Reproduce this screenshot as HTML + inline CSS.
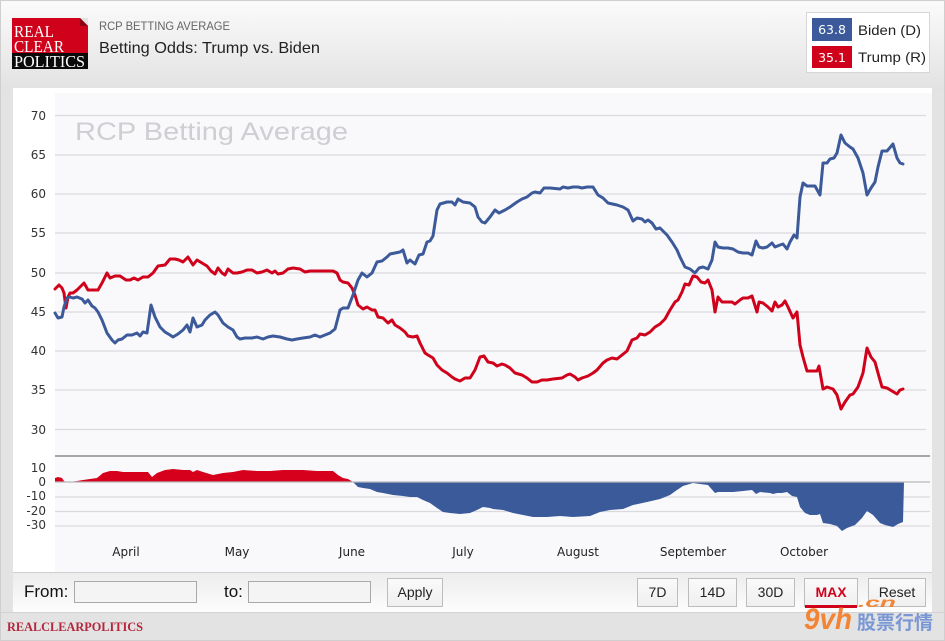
<!DOCTYPE html>
<html><head><meta charset="utf-8"><style>
html,body{margin:0;padding:0;background:#e3e3e3;}
body{width:945px;height:641px;overflow:hidden;position:relative;}
svg{position:absolute;left:0;top:0;}
</style></head><body>
<svg width="945" height="641" viewBox="0 0 945 641" xmlns="http://www.w3.org/2000/svg">
<defs>
<linearGradient id="hdr" x1="0" y1="0" x2="0" y2="1"><stop offset="0" stop-color="#fbfbfb"/><stop offset="1" stop-color="#e2e2e2"/></linearGradient>
<linearGradient id="bar" x1="0" y1="0" x2="0" y2="1"><stop offset="0" stop-color="#ececec"/><stop offset="1" stop-color="#fdfdfd"/></linearGradient>
<linearGradient id="btn" x1="0" y1="0" x2="0" y2="1"><stop offset="0" stop-color="#fafafa"/><stop offset="1" stop-color="#efefef"/></linearGradient>
</defs>
<rect x="0" y="0" width="945" height="641" fill="#e3e3e3"/>
<rect x="0" y="0" width="945" height="90" fill="url(#hdr)"/>
<rect x="0.5" y="0.5" width="944" height="640" fill="none" stroke="#cfcfcf"/>
<!-- logo -->
<rect x="12" y="18" width="76" height="36" fill="#d0021b"/>
<polygon points="80,18 88,18 88,26" fill="#e3e3e3"/>
<polygon points="80,18 88,26 80,26" fill="#8e0012"/>
<rect x="12" y="53" width="76" height="16" fill="#0a0a0a"/>
<text x="14" y="37" font-family="Liberation Serif, serif" font-size="17" fill="#fff" textLength="40" lengthAdjust="spacingAndGlyphs">REAL</text>
<text x="14" y="52" font-family="Liberation Serif, serif" font-size="17" fill="#fff" textLength="50" lengthAdjust="spacingAndGlyphs">CLEAR</text>
<text x="14" y="67" font-family="Liberation Serif, serif" font-size="17" fill="#fff" textLength="71" lengthAdjust="spacingAndGlyphs">POLITICS</text>
<text x="99" y="30" font-family="Liberation Sans, sans-serif" font-size="12" fill="#666" textLength="131" lengthAdjust="spacingAndGlyphs">RCP BETTING AVERAGE</text>
<text x="99" y="53" font-family="Liberation Sans, sans-serif" font-size="16" fill="#222" textLength="221" lengthAdjust="spacingAndGlyphs">Betting Odds: Trump vs. Biden</text>
<!-- legend -->
<rect x="806.5" y="12.5" width="123" height="60" fill="#fff" stroke="#d6d6d6"/>
<rect x="812" y="18" width="40" height="23" fill="#3c5a99"/>
<rect x="812" y="46" width="40" height="22" fill="#d0021b"/>
<text x="832" y="34" text-anchor="middle" font-family="DejaVu Sans, sans-serif" font-size="12.5" fill="#fff">63.8</text>
<text x="832" y="62" text-anchor="middle" font-family="DejaVu Sans, sans-serif" font-size="12.5" fill="#fff">35.1</text>
<text x="858" y="35" font-family="Liberation Sans, sans-serif" font-size="14" fill="#222" textLength="63" lengthAdjust="spacingAndGlyphs">Biden (D)</text>
<text x="858" y="62" font-family="Liberation Sans, sans-serif" font-size="14" fill="#222" textLength="68" lengthAdjust="spacingAndGlyphs">Trump (R)</text>
<!-- chart panel -->
<rect x="13" y="88" width="919" height="484" fill="#ffffff"/>
<rect x="55" y="93" width="877" height="479" fill="#f9f9fc"/>
<!-- gridlines -->
<g stroke="#d9d9de" stroke-width="1.2">
<line x1="55" y1="115.5" x2="926" y2="115.5"/>
<line x1="55" y1="155" x2="926" y2="155"/>
<line x1="55" y1="194" x2="926" y2="194"/>
<line x1="55" y1="233" x2="926" y2="233"/>
<line x1="55" y1="273" x2="926" y2="273"/>
<line x1="55" y1="312" x2="926" y2="312"/>
<line x1="55" y1="351" x2="926" y2="351"/>
<line x1="55" y1="390" x2="926" y2="390"/>
<line x1="55" y1="429.5" x2="926" y2="429.5"/>
<line x1="55" y1="497" x2="930" y2="497"/>
<line x1="55" y1="511.5" x2="930" y2="511.5"/>
<line x1="55" y1="526" x2="930" y2="526"/>
</g>
<text x="75" y="140" font-family="Liberation Sans, sans-serif" font-size="25" fill="#cfcfd3" textLength="273" lengthAdjust="spacingAndGlyphs">RCP Betting Average</text>
<g font-family="DejaVu Sans, sans-serif" font-size="12" fill="#333" text-anchor="end">
<text x="46" y="120">70</text>
<text x="46" y="159">65</text>
<text x="46" y="198">60</text>
<text x="46" y="237">55</text>
<text x="46" y="277">50</text>
<text x="46" y="316">45</text>
<text x="46" y="355">40</text>
<text x="46" y="394">35</text>
<text x="46" y="434">30</text>
<text x="46" y="472">10</text>
<text x="46" y="486">0</text>
<text x="46" y="500">-10</text>
<text x="46" y="515">-20</text>
<text x="46" y="529">-30</text>
</g>
<g font-family="DejaVu Sans, sans-serif" font-size="12" fill="#222" text-anchor="middle">
<text x="126" y="556">April</text>
<text x="237" y="556">May</text>
<text x="352" y="556">June</text>
<text x="463" y="556">July</text>
<text x="578" y="556">August</text>
<text x="693" y="556">September</text>
<text x="804" y="556">October</text>
</g>
<!-- spread areas -->
<polygon fill="#d6001c" points="55,482 55,478 58,477 62,478 64,481 66,482 70,482 77,481 83,480 90,479 97,478 103,473 110,471 117,471 123,472 137,472 148,472 152,477 157,473 165,470 173,469 183,470 190,470 193,472 197,470 203,472 213,475 223,473 233,472 243,470 257,471 270,471 283,470 290,470 303,470 317,471 333,471 338,475 343,478 348,479 353,482"/>
<polygon fill="#3b5a9a" points="353,482 358,487 363,488 370,489 377,492 383,493 393,495 403,496 410,497 417,497 423,500 430,503 437,508 443,512 450,513 460,514 470,513 477,510 483,507 490,508 493,509 503,510 513,513 523,515 533,517 547,517 560,516 573,517 590,516 600,512 610,510 623,509 633,505 647,502 660,499 670,495 677,490 683,486 693,483 700,484 708,485 715,493 718,492 733,492 743,491 752,490 756,494 760,492 770,493 773,494 777,493 782,493 787,492 792,496 797,497 800,507 805,513 810,515 817,515 820,514 823,523 830,524 837,526 842,531 847,528 855,525 862,518 867,511 873,515 880,523 885,525 893,527 898,524 903,522 904,482"/>
<line x1="55" y1="482" x2="930" y2="482" stroke="#b8b8bc" stroke-width="1.2"/>
<line x1="55" y1="456" x2="930" y2="456" stroke="#8a8a8a" stroke-width="1.6"/>
<!-- series -->
<polyline fill="none" stroke="#d0021b" stroke-width="3" stroke-linejoin="round" stroke-linecap="round" points="55,289 59,285 62,288 64,293 66,308 68,297 70,293 73,293 77,290 80,287 84,283 88,290 93,290 98,290 102,283 107,273 110,278 115,276 120,276 126,280 130,280 134,278 138,280 143,277 148,277 153,273 158,266 165,265 170,259 175,259 179,260 183,262 188,257 193,265 197,260 202,263 207,266 211,271 215,274 218,268 222,273 225,275 228,269 233,273 237,273 242,272 247,270 252,270 257,273 262,272 267,270 272,273 275,271 278,274 283,273 288,269 293,268 300,269 305,272 310,271 317,271 323,271 330,271 333,271 337,273 340,280 343,282 348,283 352,288 355,295 358,305 363,309 367,307 372,310 375,310 378,317 383,318 388,323 392,320 395,325 400,328 405,332 408,336 413,337 417,336 420,343 425,353 428,355 433,358 437,365 442,370 447,373 452,377 455,379 460,381 465,378 470,378 475,370 480,357 484,356 488,362 493,363 497,366 502,364 505,365 510,368 515,373 522,375 527,378 532,382 537,382 542,380 547,380 553,379 562,378 567,375 570,374 575,377 578,380 582,378 588,376 593,373 597,370 603,363 607,360 612,358 617,359 622,355 627,351 632,340 637,338 640,334 645,335 650,332 655,327 660,324 665,319 670,310 675,302 678,300 682,292 685,284 689,285 693,276 697,277 701,282 705,283 708,280 712,290 715,312 718,297 722,302 727,302 732,302 735,304 740,300 743,298 748,298 752,296 757,312 759,302 763,303 768,307 772,311 775,302 778,307 782,305 785,301 788,307 793,318 797,312 800,345 803,357 807,371 812,371 817,371 819,366 823,389 827,387 833,389 837,395 841,409 845,402 850,395 853,394 858,387 863,373 867,348 871,357 875,362 878,373 882,387 887,388 892,391 897,394 900,390 903,389"/>
<polyline fill="none" stroke="#3c5a99" stroke-width="3" stroke-linejoin="round" stroke-linecap="round" points="55,313 58,318 62,317 64,307 67,298 70,297 73,298 77,297 82,299 85,303 88,300 92,306 95,308 98,312 102,320 107,333 112,340 115,343 118,340 122,339 127,335 132,335 137,333 140,336 143,332 147,333 151,305 155,317 160,327 165,332 170,335 173,337 178,334 183,330 187,325 190,332 193,318 197,327 202,325 205,320 210,315 215,312 218,315 223,323 228,327 233,330 237,337 240,339 245,338 252,338 257,337 263,339 268,337 273,336 280,337 287,339 292,340 297,339 303,338 310,337 315,335 320,337 325,335 330,333 335,329 340,310 343,308 348,308 353,295 358,280 362,273 367,277 372,273 377,262 382,261 387,257 390,254 395,253 400,252 403,250 407,263 410,260 415,264 419,255 423,254 427,242 430,241 433,236 437,210 440,204 447,202 452,202 455,205 458,199 463,202 470,203 475,207 478,217 482,222 485,223 490,217 495,210 499,213 505,210 510,207 517,202 522,199 527,197 532,193 535,192 540,193 544,188 550,188 560,189 563,187 568,188 573,187 578,187 582,188 587,187 593,187 598,195 603,198 608,203 617,205 623,207 628,210 633,221 637,218 642,219 645,222 648,220 652,223 656,229 660,228 662,230 667,235 672,242 677,250 680,257 685,267 690,269 695,273 699,268 703,267 708,269 712,260 715,242 718,247 723,248 728,248 733,249 738,252 743,253 748,253 752,255 756,241 759,247 763,248 767,247 772,243 775,247 780,245 783,244 787,249 790,242 794,235 797,238 800,197 803,183 807,186 812,186 815,186 820,195 823,163 827,163 830,159 834,158 837,153 841,135 845,143 850,147 853,149 858,158 863,173 867,195 871,188 875,182 878,167 882,151 887,151 893,144 897,158 900,163 903,164"/>
<!-- controls bar -->
<rect x="13" y="572" width="919" height="40" fill="url(#bar)"/>
<line x1="13" y1="572.5" x2="932" y2="572.5" stroke="#cfcfcf"/>
<text x="24" y="597" font-family="Liberation Sans, sans-serif" font-size="17" fill="#111">From:</text>
<rect x="74.5" y="581.5" width="122" height="21" fill="#f4f4f4" stroke="#a9a9a9"/>
<text x="224" y="597" font-family="Liberation Sans, sans-serif" font-size="17" fill="#111">to:</text>
<rect x="248.5" y="581.5" width="122" height="21" fill="#f4f4f4" stroke="#a9a9a9"/>
<g font-family="Liberation Sans, sans-serif" font-size="14" fill="#222" text-anchor="middle">
<rect x="387.5" y="578.5" width="55" height="28" fill="url(#btn)" stroke="#bdbdbd"/><text x="415" y="597">Apply</text>
<rect x="637.5" y="578.5" width="40" height="28" fill="url(#btn)" stroke="#bdbdbd"/><text x="657.5" y="597">7D</text>
<rect x="688.5" y="578.5" width="48" height="28" fill="url(#btn)" stroke="#bdbdbd"/><text x="712.5" y="597">14D</text>
<rect x="746.5" y="578.5" width="48" height="28" fill="url(#btn)" stroke="#bdbdbd"/><text x="770.5" y="597">30D</text>
<rect x="804.5" y="578.5" width="53" height="28" fill="url(#btn)" stroke="#bdbdbd"/><text x="831" y="597" fill="#d0021b" font-weight="bold">MAX</text>
<rect x="805" y="605" width="52" height="3" fill="#d0021b"/>
<rect x="868.5" y="578.5" width="57" height="28" fill="url(#btn)" stroke="#bdbdbd"/><text x="897" y="597">Reset</text>
</g>
<line x1="0" y1="612.5" x2="945" y2="612.5" stroke="#d2d2d2"/>
<text x="7" y="631" font-family="Liberation Serif, serif" font-size="13" font-weight="bold" fill="#b3263d" textLength="136" lengthAdjust="spacingAndGlyphs">REALCLEARPOLITICS</text>
<!-- watermark -->
<text x="804" y="629" font-family="Liberation Sans, sans-serif" font-size="30" font-weight="bold" font-style="italic" fill="#f47a20" opacity="0.9" textLength="48" lengthAdjust="spacingAndGlyphs">9vh</text>
<text x="858" y="607" font-family="Liberation Sans, sans-serif" font-size="14" font-weight="bold" font-style="italic" fill="#f47a20" opacity="0.9" textLength="38" lengthAdjust="spacingAndGlyphs">.cn</text>
<text x="857" y="629" font-family="Noto Sans CJK SC, WenQuanYi Zen Hei, sans-serif" font-size="19" font-weight="bold" fill="#6f8fd4" opacity="0.9" textLength="76" lengthAdjust="spacingAndGlyphs">股票行情</text>
</svg>
</body></html>
